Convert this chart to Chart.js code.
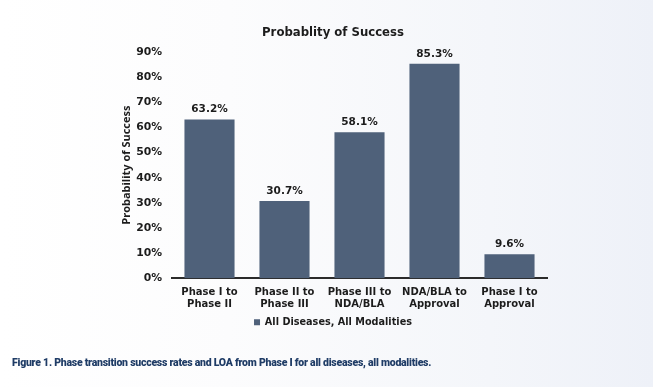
<!DOCTYPE html>
<html>
<head>
<meta charset="utf-8">
<script src="https://cdn.jsdelivr.net/npm/chart.js@4.4.1/dist/chart.umd.min.js"></script>
<style>
  html, body { margin: 0; padding: 0; }
  body {
    width: 653px; height: 387px; overflow: hidden; position: relative;
    background: linear-gradient(to right, #ffffff 0%, #fcfcfd 35%, #f4f6fa 75%, #eef1f8 100%);
  }
  #wrap { position: absolute; left: 0; top: 0; width: 653px; height: 387px; }
  #caption {
    position: absolute; left: 12px; top: 356px;
    font-family: "Roboto", "Liberation Sans", sans-serif; font-weight: 900;
    font-size: 10.5px; line-height: 14px; letter-spacing: -0.25px; color: #1f3c66; white-space: nowrap;
  }
</style>
</head>
<body>
<div id="wrap"><canvas id="c" width="653" height="387"></canvas></div>
<div id="caption">Figure 1. Phase transition success rates and LOA from Phase I for all diseases, all modalities.</div>
<script>
const categories = [
  ["Phase I to", "Phase II"],
  ["Phase II to", "Phase III"],
  ["Phase III to", "NDA/BLA"],
  ["NDA/BLA to", "Approval"],
  ["Phase I to", "Approval"]
];
const successRates = [63.2, 30.7, 58.1, 85.3, 9.6];
const seriesName = "All Diseases, All Modalities";
const chartTitle = "Probablity of Success";
const yAxisTitle = "Probability of Success";

const barColor = "#4f617a";
const textColor = "#1c1c1c";
const mainFont = "'DejaVu Sans', Verdana, sans-serif";

const valueLabels = {
  id: 'valueLabels',
  afterDatasetsDraw(chart) {
    const ctx = chart.ctx;
    const meta = chart.getDatasetMeta(0);
    ctx.save();
    ctx.font = "bold 10.5px " + mainFont;
    ctx.fillStyle = textColor;
    ctx.textAlign = 'center';
    ctx.textBaseline = 'middle';
    meta.data.forEach((bar, i) => {
      ctx.fillText(chart.data.datasets[0].data[i].toFixed(1) + '%', bar.x, bar.y - 10);
    });
    ctx.restore();
  }
};

new Chart(document.getElementById('c'), {
  type: 'bar',
  data: {
    labels: categories,
    datasets: [{
      label: seriesName,
      data: successRates,
      backgroundColor: barColor,
      borderWidth: 0,
      barPercentage: 0.668,
      categoryPercentage: 1.0
    }]
  },
  plugins: [valueLabels],
  options: {
    responsive: false,
    animation: false,
    devicePixelRatio: 1,
    layout: { padding: { left: 119, right: 106, top: 0, bottom: 50 } },
    plugins: {
      title: {
        display: true,
        text: chartTitle,
        color: textColor,
        font: { family: mainFont, size: 11.7, weight: 'bold', lineHeight: 1.2 },
        padding: { top: 26, bottom: 12 }
      },
      legend: {
        display: true,
        position: 'bottom',
        labels: {
          boxWidth: 6, boxHeight: 6,
          color: textColor,
          padding: 6,
          font: { family: mainFont, size: 9.7, weight: 'bold' }
        }
      },
      tooltip: { enabled: false }
    },
    scales: {
      x: {
        grid: { display: false, drawTicks: false },
        border: { display: true, color: '#2b2b2b', width: 2 },
        ticks: {
          color: textColor,
          padding: 8,
          maxRotation: 0,
          autoSkip: false,
          font: { family: mainFont, size: 10, weight: 'bold', lineHeight: 1.2 }
        },
        afterFit(scale) { scale.height = 33; }
      },
      y: {
        min: 0, max: 90,
        grid: { display: false, drawTicks: false },
        border: { display: false },
        ticks: {
          stepSize: 10,
          padding: 10,
          color: textColor,
          font: { family: mainFont, size: 10.8, weight: 'bold' },
          callback: v => v + '%'
        },
        title: {
          display: true,
          text: yAxisTitle,
          color: textColor,
          font: { family: "'Open Sans', sans-serif", size: 11, weight: 'bold', lineHeight: 1.2 },
          padding: { top: 1.5, bottom: 0 }
        },
        afterFit(scale) { scale.width = 53; }
      }
    }
  }
});
</script>
</body>
</html>
